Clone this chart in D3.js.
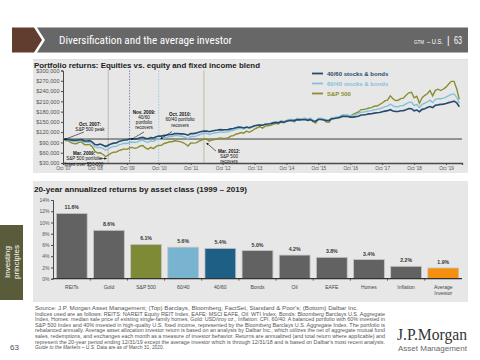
<!DOCTYPE html>
<html><head><meta charset="utf-8">
<script src="https://cdn.jsdelivr.net/npm/d3@7"></script>
<style>
html,body{margin:0;padding:0;background:#fff;}
svg{display:block;font-family:"Liberation Sans",Arial,sans-serif;}
</style></head><body>
<svg id="c" width="480" height="360"></svg>
<script>
// ---------- DATA ----------
// Monthly values, Oct 2007 .. Mar 2020, growth of $100,000 (in $ thousands)
const sp500 = [100.0,95.8,95.1,89.5,86.5,86.2,90.5,91.6,83.8,83.1,84.3,76.8,63.9,59.2,59.8,54.8,48.9,53.2,58.3,61.5,61.6,66.3,68.6,71.2,69.9,74.1,75.5,72.8,75.0,79.6,80.9,74.3,70.5,75.5,72.0,78.4,81.4,81.4,86.9,89.0,92.0,92.1,94.9,93.8,92.3,90.4,85.5,79.5,88.2,87.9,88.9,92.8,96.8,100.0,99.4,93.4,97.2,98.6,100.8,103.4,101.6,102.0,102.9,108.3,109.8,113.9,116.2,118.8,117.2,123.2,119.6,123.4,129.1,132.9,136.2,131.7,137.5,138.8,139.9,143.1,146.0,144.1,149.7,147.7,151.4,155.4,155.0,150.4,159.0,156.5,158.1,160.0,156.9,160.3,150.5,146.8,159.2,159.5,157.1,149.3,148.9,159.1,159.7,162.5,162.9,169.0,169.1,169.1,166.1,172.1,175.5,178.9,185.9,186.2,188.1,190.6,191.8,195.8,196.3,200.4,205.1,211.3,213.7,226.1,217.6,212.1,213.0,217.9,219.3,227.6,234.9,236.3,220.2,224.5,204.2,220.6,227.5,232.0,241.5,226.0,242.0,245.5,241.4,246.0,251.4,260.4,268.3,268.3,246.0,215.6];
const blend6040 = [100.0,97.8,97.5,94.8,92.9,92.8,95.5,95.9,91.0,90.5,91.6,86.2,76.7,74.4,75.9,71.8,67.1,71.1,75.4,78.3,78.6,82.9,85.0,87.5,86.8,90.5,91.1,89.8,91.7,95.2,96.7,92.4,90.3,94.6,92.6,97.7,100.3,100.0,103.7,105.2,107.4,107.5,110.0,109.8,108.6,108.0,105.1,101.0,107.6,107.4,108.6,111.8,114.7,116.7,116.8,113.0,115.8,117.4,119.0,120.9,119.8,120.1,120.7,124.2,125.5,128.3,130.4,131.2,129.3,133.3,130.7,133.7,137.9,140.1,141.8,139.9,143.8,144.5,145.7,148.3,150.2,148.8,153.0,151.3,154.2,157.1,156.9,155.4,160.2,159.0,159.7,160.7,158.1,160.6,154.7,152.8,160.6,160.6,158.9,155.1,155.3,162.2,162.8,164.5,166.0,170.1,170.1,170.0,167.7,169.7,171.8,173.9,178.5,178.6,180.3,182.3,182.9,185.5,186.4,188.4,191.1,194.5,196.2,202.1,196.7,194.2,194.2,197.4,198.0,202.5,206.9,207.2,198.0,200.8,191.4,201.2,204.7,208.4,213.2,206.3,215.8,217.6,217.4,219.2,222.1,226.5,230.2,231.7,221.5,204.3];
const blend4060 = [100.0,98.9,98.8,97.4,96.2,96.2,98.0,98.1,94.7,94.3,95.4,91.2,83.8,83.0,85.2,81.9,78.1,81.8,85.5,88.0,88.6,92.6,94.7,97.0,97.0,100.4,100.2,99.6,101.1,103.5,104.8,101.9,100.8,104.2,103.1,106.9,108.7,108.4,110.6,111.7,113.4,113.4,115.7,116.0,115.1,115.2,113.8,111.1,116.0,115.8,117.1,119.8,121.8,123.0,123.5,121.2,123.2,124.9,126.1,127.5,126.7,127.1,127.5,129.6,130.7,132.7,134.6,134.4,132.3,135.1,133.1,135.6,138.8,140.1,141.0,140.4,143.3,143.7,144.8,147.1,148.4,147.4,150.6,149.2,151.6,153.8,153.8,153.9,156.5,156.0,156.3,156.9,154.6,156.6,152.7,151.8,157.0,156.8,155.6,153.8,154.3,159.3,159.9,161.1,163.0,166.0,165.9,165.8,163.9,163.9,165.3,166.7,170.1,170.1,171.6,173.3,173.6,175.5,176.6,177.6,179.4,181.4,182.8,185.7,181.8,180.6,180.2,182.6,183.0,185.7,188.8,188.5,182.5,184.6,179.9,186.6,188.6,192.0,194.9,191.8,198.4,199.6,201.1,201.8,203.6,206.2,208.3,210.4,205.4,194.2];
const seriesNames = ["40/60 stocks & bonds", "60/40 stocks & bonds", "S&P 500"];
const topYTicks = [30, 60, 90, 120, 150, 180, 210, 240, 270, 300];
const topXTickLabels = ["Oct '07","Oct '08","Oct '09","Oct '10","Oct '11","Oct '12","Oct '13","Oct '14","Oct '15","Oct '16","Oct '17","Oct '18","Oct '19"];
const baselineValue = 100;

const barCategories = ["REITs","Gold","S&P 500","60/40","40/60","Bonds","Oil","EAFE","Homes","Inflation","Average Investor"];
const barValues = [11.6, 8.6, 6.1, 5.6, 5.4, 5.0, 4.2, 3.8, 3.4, 2.2, 1.9];
const barYTicks = [0, 2, 4, 6, 8, 10, 12, 14];

// ---------- STYLE ----------
const C = {
  navy: "#274b6d", light: "#85c0da", olive: "#8b8d2e",
  panel: "#e7e7e7", text: "#333", tick: "#4a4a4a"
};
const barColors = ["#626262","#626262","#7f8a36","#78b3cf","#1e5f86","#626262","#626262","#626262","#626262","#626262","#f4900d"];

const svg = d3.select("#c");

// ---------- HEADER ----------
svg.append("polygon").attr("points","12,27.5 34,27.5 42,40 34,52.5 12,52.5").attr("fill","#603d2e");
svg.append("polygon").attr("points","37,27.5 468,27.5 468,52.5 37,52.5 45,40").attr("fill","#676767");
svg.append("text").attr("x",59).attr("y",44).attr("fill","#fff")
  .attr("font-family","'Liberation Sans Narrow','Roboto Condensed',Roboto,Arial,sans-serif")
  .attr("font-size",10.5).attr("textLength",173).attr("lengthAdjust","spacingAndGlyphs")
  .text("Diversification and the average investor");
svg.append("text").attr("x",414).attr("y",43.5).attr("fill","#fff").attr("font-size",6)
  .attr("textLength",10).attr("lengthAdjust","spacingAndGlyphs").text("GTM");
svg.append("text").attr("x",427).attr("y",43.5).attr("fill","#fff").attr("font-size",7)
  .attr("textLength",16).attr("lengthAdjust","spacingAndGlyphs").text("– U.S.");
svg.append("text").attr("x",447).attr("y",44).attr("fill","#fff").attr("font-size",10).text("|");
svg.append("text").attr("x",454).attr("y",44).attr("fill","#fff").attr("font-size",10.5)
  .attr("textLength",8).attr("lengthAdjust","spacingAndGlyphs").text("63");
svg.append("line").attr("x1",33).attr("x2",468).attr("y1",59.5).attr("y2",59.5).attr("stroke","#d8d8d8").attr("stroke-width",0.8);

// ---------- TOP PANEL ----------
svg.append("rect").attr("x",33).attr("y",60).attr("width",435).attr("height",113).attr("fill",C.panel);
svg.append("text").attr("x",34).attr("y",68).attr("font-size",7).attr("font-weight","bold").attr("fill","#222")
  .attr("textLength",226).attr("lengthAdjust","spacingAndGlyphs")
  .text("Portfolio returns: Equities vs. equity and fixed income blend");

const months = d3.timeMonth.range(new Date(2007,9,1), new Date(2020,3,1));
const x = d3.scaleTime().domain([new Date(2007,9,1), new Date(2020,3,1)]).range([63, 462]);
const y = d3.scaleLinear().domain([30, 300]).range([163, 70.5]);

// y axis
const yAx = svg.append("g").attr("transform","translate(63,0)")
  .call(d3.axisLeft(y).tickValues(topYTicks).tickSize(2).tickPadding(1.5)
    .tickFormat(v => "$" + d3.format(",")(v*1000)));
yAx.select(".domain").attr("stroke",C.tick).attr("stroke-width",1);
yAx.selectAll(".tick line").attr("stroke",C.tick);
yAx.selectAll("text").attr("font-size",5.6).attr("fill","#555");

// x axis
const octs = topXTickLabels.map((_,i) => new Date(2007+i, 9, 1));
const xAx = svg.append("g").attr("transform","translate(0,163)")
  .call(d3.axisBottom(x).tickValues(octs).tickSize(2).tickPadding(1.2)
    .tickFormat((d,i) => topXTickLabels[i]));
xAx.select(".domain").attr("stroke",C.tick).attr("stroke-width",1.3);
xAx.selectAll(".tick line").attr("stroke",C.tick);
xAx.selectAll("text").attr("font-size",4.7).attr("fill","#555");

// $100k baseline
svg.append("line").attr("x1",63).attr("x2",462).attr("y1",y(baselineValue)).attr("y2",y(baselineValue))
  .attr("stroke","#2b2b2b").attr("stroke-width",0.9);

// event vertical lines
const events = [
  {date:new Date(2009,2,1), color:"#555", dash:"0.8,1.2"},
  {date:new Date(2009,10,1), color:"#5d7391", dash:"1.5,1.3"},
  {date:new Date(2010,9,1), color:"#8ec4dc", dash:"1.5,1.3"},
  {date:new Date(2012,2,1), color:"#b3b28c", dash:null}
];
events.forEach(e => {
  const l = svg.append("line").attr("x1",x(e.date)).attr("x2",x(e.date)).attr("y1",y(300)).attr("y2",163)
    .attr("stroke",e.color).attr("stroke-width",0.8);
  if (e.dash) l.attr("stroke-dasharray",e.dash);
});

// lines
const line = d3.line().x((d,i) => x(months[i])).y(d => y(d));
svg.append("path").datum(sp500).attr("d",line).attr("fill","none").attr("stroke",C.olive).attr("stroke-width",1.4);
svg.append("path").datum(blend6040).attr("d",line).attr("fill","none").attr("stroke",C.light).attr("stroke-width",1.4);
svg.append("path").datum(blend4060).attr("d",line).attr("fill","none").attr("stroke",C.navy).attr("stroke-width",1.6);

// legend
const legColors = [C.navy, C.light, C.olive];
seriesNames.forEach((n,i) => {
  const ly = 73.5 + i*10;
  svg.append("line").attr("x1",312).attr("x2",323).attr("y1",ly).attr("y2",ly).attr("stroke",legColors[i]).attr("stroke-width",1.8);
  svg.append("text").attr("x",327).attr("y",ly+2).attr("font-size",6).attr("font-weight","bold")
    .attr("fill",legColors[i]).text(n);
});

// annotations
const defs = svg.append("defs");
defs.append("marker").attr("id","ah").attr("viewBox","0 0 10 10").attr("refX",9).attr("refY",5)
  .attr("markerWidth",4).attr("markerHeight",4).attr("orient","auto-start-reverse")
  .append("path").attr("d","M0,0 L10,5 L0,10 z").attr("fill","#111");
function arrow(x1,y1,x2,y2){
  svg.append("line").attr("x1",x1).attr("y1",y1).attr("x2",x2).attr("y2",y2)
    .attr("stroke","#111").attr("stroke-width",0.6).attr("marker-end","url(#ah)");
}
function note(cx, y0, lines){
  lines.forEach((t,i) => {
    svg.append("text").attr("x",cx).attr("y",y0 + i*5.3).attr("text-anchor","middle")
      .attr("font-size",4.6).attr("fill","#111").attr("font-weight", i===0 ? "bold" : "normal").text(t);
  });
}
note(90, 126, ["Oct. 2007:", "S&P 500 peak"]);
arrow(84, 132, 64.5, 139.5);
note(144, 113.5, ["Nov. 2009:", "40/60", "portfolio", "recovers"]);
arrow(144, 132, 131, 139.5);
note(180, 116, ["Oct. 2010:", "60/40 portfolio", "recovers"]);
arrow(172, 131.5, 160.5, 139);
note(84, 155, ["Mar. 2009:", "S&P 500 portfolio", "loses over $50,000"]);
arrow(99, 158.5, 106.5, 158.5);
note(229, 152.5, ["Mar. 2012:", "S&P 500", "recovers"]);
arrow(216, 151, 206.5, 143);

// ---------- BOTTOM PANEL ----------
svg.append("rect").attr("x",33).attr("y",181).attr("width",435).attr("height",121).attr("fill",C.panel);
svg.append("text").attr("x",34).attr("y",191.5).attr("font-size",7).attr("font-weight","bold").attr("fill","#222")
  .attr("textLength",213).attr("lengthAdjust","spacingAndGlyphs")
  .text("20-year annualized returns by asset class (1999 – 2019)");

const bx = d3.scaleBand().domain(barCategories).range([53, 462]).paddingInner(0.17).paddingOuter(0.09);
const by = d3.scaleLinear().domain([0, 14]).range([278.7, 200]);

const byAx = svg.append("g").attr("transform","translate(53,0)")
  .call(d3.axisLeft(by).tickValues(barYTicks).tickSize(2).tickPadding(1.5).tickFormat(v => v + "%"));
byAx.select(".domain").attr("stroke",C.tick);
byAx.selectAll(".tick line").attr("stroke",C.tick);
byAx.selectAll("text").attr("font-size",5).attr("fill","#555");

svg.selectAll("rect.bar").data(barValues).enter().append("rect").attr("class","bar")
  .attr("x",(d,i) => bx(barCategories[i])).attr("width",bx.bandwidth())
  .attr("y",d => by(d)).attr("height",d => by(0) - by(d))
  .attr("fill",(d,i) => barColors[i]).attr("stroke","#c4c4c4").attr("stroke-width",0.8);

svg.selectAll("text.val").data(barValues).enter().append("text").attr("class","val")
  .attr("x",(d,i) => bx(barCategories[i]) + bx.bandwidth()/2).attr("y",d => by(d) - 4)
  .attr("text-anchor","middle").attr("font-size",5.2).attr("font-weight","bold").attr("fill","#333")
  .text(d => d.toFixed(1) + "%");

// x axis line + ticks between bars
svg.append("line").attr("x1",53).attr("x2",462).attr("y1",by(0)).attr("y2",by(0)).attr("stroke","#333").attr("stroke-width",1.3);
barCategories.slice(1).forEach(c => {
  const tx = bx(c) - bx.step()*bx.paddingInner()/2;
  svg.append("line").attr("x1",tx).attr("x2",tx).attr("y1",by(0)).attr("y2",by(0)+2).attr("stroke","#333").attr("stroke-width",0.7);
});
barCategories.forEach(c => {
  const words = c === "Average Investor" ? ["Average","Investor"] : [c];
  words.forEach((w,j) => {
    svg.append("text").attr("x",bx(c) + bx.bandwidth()/2).attr("y",289 + j*6).attr("text-anchor","middle")
      .attr("font-size",5).attr("fill","#444").text(w);
  });
});

// ---------- SIDEBAR ----------
svg.append("rect").attr("x",0).attr("y",225).attr("width",23).attr("height",75).attr("fill","#5a5b3b");
const side = svg.append("text").attr("transform","translate(11,262) rotate(-90)").attr("text-anchor","middle")
  .attr("fill","#fff").attr("font-size",8);
side.append("tspan").attr("x",0).attr("dy",-1).text("Investing");
side.append("tspan").attr("x",0).attr("dy",8.5).text("principles");
svg.append("text").attr("x",10).attr("y",350).attr("font-size",8).attr("fill","#3f4b6c").text("63");

// ---------- FOOTER ----------
const foot = [
  ["Source: J.P. Morgan Asset Management; (Top) Barclays, Bloomberg, FactSet, Standard & Poor's; (Bottom) Dalbar Inc.", 323],
  ["Indices used are as follows: REITS: NAREIT Equity REIT Index, EAFE: MSCI EAFE, Oil: WTI Index, Bonds: Bloomberg Barclays U.S. Aggregate", 350],
  ["Index, Homes: median sale price of existing single-family homes, Gold: USD/troy oz., Inflation: CPI. 60/40: A balanced portfolio with 60% invested in", 350],
  ["S&P 500 Index and 40% invested in high-quality U.S. fixed income, represented by the Bloomberg Barclays U.S. Aggregate Index. The portfolio is", 350],
  ["rebalanced annually. Average asset allocation investor return is based on an analysis by Dalbar Inc., which utilizes the net of aggregate mutual fund", 350],
  ["sales, redemptions, and exchanges each month as a measure of investor behavior. Returns are annualized (and total return where applicable) and", 350],
  ["represent the 20-year period ending 12/31/19 except the average investor which is through 12/31/18 and is based on Dalbar's most recent analysis.", 350]
];
foot.forEach((f,i) => {
  svg.append("text").attr("x",35).attr("y",310 + i*5.6).attr("font-size",4.9).attr("fill","#555")
    .attr("textLength",f[1]).attr("lengthAdjust","spacingAndGlyphs").text(f[0]);
});
const lastL = svg.append("text").attr("x",35).attr("y",310 + 7*5.6).attr("font-size",4.9).attr("fill","#555");
lastL.append("tspan").attr("font-style","italic").text("Guide to the Markets – U.S.");
lastL.append("tspan").text(" Data are as of March 31, 2020.");

// logo
svg.append("text").attr("x",397).attr("y",340).attr("font-family","'Liberation Serif','Times New Roman',serif")
  .attr("font-size",16).attr("fill","#333").attr("textLength",70).attr("lengthAdjust","spacingAndGlyphs").text("J.P.Morgan");
svg.append("text").attr("x",398).attr("y",351).attr("font-size",7.6).attr("fill","#666")
  .attr("textLength",69).attr("lengthAdjust","spacingAndGlyphs").text("Asset Management");
</script>
</body></html>
